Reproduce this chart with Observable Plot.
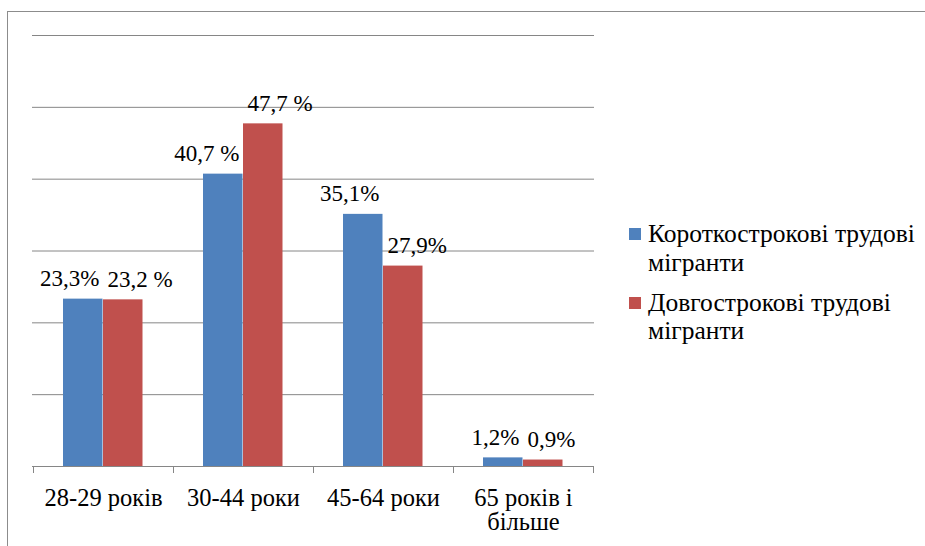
<!DOCTYPE html>
<html>
<head>
<meta charset="utf-8">
<script src="https://cdn.jsdelivr.net/npm/d3@7"></script>
<script src="https://cdn.jsdelivr.net/npm/@observablehq/plot@0.6"></script>
<style>
html, body { margin: 0; padding: 0; background: #fff; overflow: hidden; }
#wrap { position: relative; width: 925px; height: 546px; overflow: hidden; font-family: "Liberation Serif", Tinos, "Times New Roman", "Liberation Sans", Arial, sans-serif; color: #000; }
#frame { position: absolute; left: 7px; top: 11px; width: 1000px; height: 700px; border: 1.5px solid #8c8c8c; box-sizing: border-box; }
#chart { position: absolute; left: 0; top: 0; }
.item { position: absolute; left: 629px; display: flex; align-items: flex-start; font-size: 25.5px; line-height: 28.7px; }
.sw { flex: none; width: 12px; height: 12px; margin-top: 8.2px; margin-right: 7px; }
.lbl { width: 275px; }
</style>
</head>
<body>
<div id="wrap">
  <div id="frame"></div>
  <div id="chart"></div>
  <div id="legend"></div>
</div>
<script>
// ---- data ----
const categories = ["28-29 років", "30-44 роки", "45-64 роки", "65 років і більше"];
const tickLabels = ["28-29 років", "30-44 роки", "45-64 роки", "65 років і\nбільше"];
const seriesNames = ["Короткострокові трудові мігранти", "Довгострокові трудові мігранти"];
const shortTerm = [23.3, 40.7, 35.1, 1.2];
const longTerm = [23.2, 47.7, 27.9, 0.9];
const shortLabels = ["23,3%", "40,7 %", "35,1%", "1,2%"];
const longLabels = ["23,2 %", "47,7 %", "27,9%", "0,9%"];
const gridValues = [10, 20, 30, 40, 50, 60];
const colors = ["#4F81BD", "#C0504D"];

// ---- build ----
const font = "'Liberation Serif', Tinos, 'Times New Roman', 'Liberation Sans', Arial, sans-serif";
const gridColor = "#868686";
const shortRows = categories.map((c, i) => ({cat: c, value: shortTerm[i], label: shortLabels[i]}));
const longRows = categories.map((c, i) => ({cat: c, value: longTerm[i], label: longLabels[i]}));

// tick marks at category boundaries (Excel style), from the library's x scale
function boundaryTicks(index, scales) {
  const x = scales.x;
  const bw = x.bandwidth ? x.bandwidth() : (x(categories[1]) - x(categories[0]));
  const xs = categories.map(c => x(c));
  xs.push(x(categories[categories.length - 1]) + bw);
  const y0 = scales.y(0);
  const g = d3.create("svg:g");
  g.selectAll("line").data(xs).join("line")
    .attr("x1", d => Math.round(d) + 0.5).attr("x2", d => Math.round(d) + 0.5)
    .attr("y1", y0).attr("y2", y0 + 7)
    .attr("stroke", gridColor);
  return g.node();
}

const plot = Plot.plot({
  width: 925,
  height: 546,
  marginTop: 35,
  marginBottom: 80,
  marginLeft: 32,
  marginRight: 331,
  style: {fontFamily: font, fontSize: "24px", color: "#000", background: "transparent"},
  x: {domain: categories, padding: 0, axis: null},
  y: {domain: [0, 60], axis: null},
  marks: [
    Plot.ruleY(gridValues, {stroke: gridColor, strokeWidth: 1}),
    Plot.barY(shortRows, {x: "cat", y: "value", fill: colors[0], insetLeft: 30, insetRight: 70.5}),
    Plot.barY(longRows, {x: "cat", y: "value", fill: colors[1], insetLeft: 70, insetRight: 30.5}),
    Plot.ruleY([0], {stroke: gridColor, strokeWidth: 1}),
    boundaryTicks,
    Plot.text(shortRows, {x: "cat", y: "value", text: "label", textAnchor: "end", lineAnchor: "bottom", dx: -4, dy: -13, fontSize: 23, fontFamily: font, fill: "#000"}),
    Plot.text(longRows, {x: "cat", y: "value", text: "label", textAnchor: "start", lineAnchor: "bottom", dx: 4, dy: -13, fontSize: 23, fontFamily: font, fill: "#000"}),
    Plot.axisX({tickSize: 0, tickPadding: 22, fontSize: 24.5, fontFamily: font, fill: "#000", label: null,
      tickFormat: d => tickLabels[categories.indexOf(d)]})
  ]
});
document.getElementById("chart").appendChild(plot);

// ---- legend ----
const legend = document.getElementById("legend");
const itemTops = [219.8, 288.5];
seriesNames.forEach((name, i) => {
  const item = document.createElement("div");
  item.className = "item";
  item.style.top = itemTops[i] + "px";
  const sw = document.createElement("div");
  sw.className = "sw";
  sw.style.background = colors[i];
  const lbl = document.createElement("div");
  lbl.className = "lbl";
  lbl.textContent = name;
  item.appendChild(sw);
  item.appendChild(lbl);
  legend.appendChild(item);
});
</script>
</body>
</html>
